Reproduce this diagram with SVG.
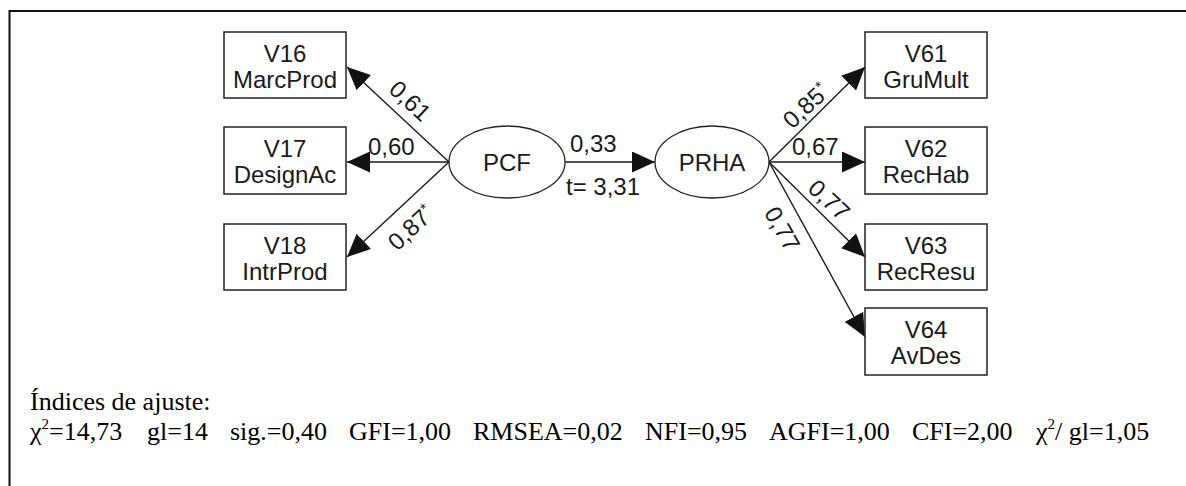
<svg xmlns="http://www.w3.org/2000/svg" width="1186" height="486" viewBox="0 0 1186 486">
  <style>
    .box { fill: #fff; stroke: #222; stroke-width: 1.5; }
    .lat { fill: #fff; stroke: #222; stroke-width: 1.3; }
    .lbl { font-family: "Liberation Sans", Arial, sans-serif; font-size: 24px; fill: #1a1a1a; }
    .mid { text-anchor: middle; }
    .edge { stroke: #1a1a1a; stroke-width: 1.4; fill: none; marker-end: url(#head); }
    .note { font-family: "Liberation Serif", "Times New Roman", serif; font-size: 26px; fill: #000; }
    .sup { font-size: 15px; }
  </style>
  <defs>
    <marker id="head" markerUnits="userSpaceOnUse" markerWidth="23" markerHeight="21" refX="23" refY="10.5" orient="auto">
      <path d="M0,0 L23,10.5 L0,21 z" fill="#111"/>
    </marker>
  </defs>

  <rect width="1186" height="486" fill="#fff"/>
  <!-- frame: top and left edges only -->
  <path d="M9.5,486 V11 H1186" fill="none" stroke="#111" stroke-width="2"/>

  <!-- connectors -->
  <g id="connectors">
    <line class="edge" x1="449" y1="162" x2="347" y2="67"/>
    <line class="edge" x1="449" y1="162" x2="347" y2="162"/>
    <line class="edge" x1="449" y1="162" x2="347" y2="257"/>
    <line class="edge" x1="565" y1="162" x2="655" y2="162"/>
    <line class="edge" x1="769" y1="162" x2="865" y2="67"/>
    <line class="edge" x1="769" y1="162" x2="865" y2="162"/>
    <line class="edge" x1="769" y1="162" x2="865" y2="257"/>
    <line class="edge" x1="769" y1="162" x2="865" y2="337"/>

    <text class="lbl mid" transform="translate(410,101) rotate(43)" y="8">0,61</text>
    <text class="lbl" x="368" y="155">0,60</text>
    <text class="lbl mid" transform="translate(411,228) rotate(-43)" y="8">0,87<tspan class="sup" dy="-8">*</tspan></text>
    <text class="lbl" x="570" y="152">0,33</text>
    <text class="lbl" x="566" y="195">t= 3,31</text>
    <text class="lbl mid" transform="translate(806,106) rotate(-43)" y="8">0,85<tspan class="sup" dy="-8">*</tspan></text>
    <text class="lbl" x="792" y="155">0,67</text>
    <text class="lbl mid" transform="translate(829,200) rotate(43)" y="8">0,77</text>
    <text class="lbl mid" transform="translate(782,229) rotate(60)" y="8">0,77</text>
  </g>

  <!-- latent variables -->
  <g id="PCF">
    <ellipse class="lat" cx="507" cy="162" rx="58" ry="36"/>
    <text class="lbl mid" x="507" y="171">PCF</text>
  </g>
  <g id="PRHA">
    <ellipse class="lat" cx="712" cy="162" rx="57" ry="36"/>
    <text class="lbl mid" x="712" y="171">PRHA</text>
  </g>

  <!-- observed variables, left -->
  <g id="V16">
    <rect class="box" x="224" y="32" width="122" height="66"/>
    <text class="lbl mid" x="285" y="62">V16</text>
    <text class="lbl mid" x="285" y="88">MarcProd</text>
  </g>
  <g id="V17">
    <rect class="box" x="224" y="127" width="122" height="67"/>
    <text class="lbl mid" x="285" y="157">V17</text>
    <text class="lbl mid" x="285" y="183">DesignAc</text>
  </g>
  <g id="V18">
    <rect class="box" x="224" y="224" width="122" height="66"/>
    <text class="lbl mid" x="285" y="254">V18</text>
    <text class="lbl mid" x="285" y="280">IntrProd</text>
  </g>

  <!-- observed variables, right -->
  <g id="V61">
    <rect class="box" x="865" y="32" width="122" height="66"/>
    <text class="lbl mid" x="926" y="62">V61</text>
    <text class="lbl mid" x="926" y="88">GruMult</text>
  </g>
  <g id="V62">
    <rect class="box" x="865" y="127" width="122" height="67"/>
    <text class="lbl mid" x="926" y="157">V62</text>
    <text class="lbl mid" x="926" y="183">RecHab</text>
  </g>
  <g id="V63">
    <rect class="box" x="865" y="224" width="122" height="66"/>
    <text class="lbl mid" x="926" y="254">V63</text>
    <text class="lbl mid" x="926" y="280">RecResu</text>
  </g>
  <g id="V64">
    <rect class="box" x="865" y="308" width="122" height="67"/>
    <text class="lbl mid" x="926" y="338">V64</text>
    <text class="lbl mid" x="926" y="364">AvDes</text>
  </g>

  <!-- fit indices -->
  <g id="fit">
    <text class="note" x="30" y="410">Índices de ajuste:</text>
    <text class="note" y="440">
      <tspan x="30">χ<tspan class="sup" dy="-11">2</tspan><tspan dy="11">=14,73</tspan></tspan>
      <tspan x="147">gl=14</tspan>
      <tspan x="230">sig.=0,40</tspan>
      <tspan x="349">GFI=1,00</tspan>
      <tspan x="473">RMSEA=0,02</tspan>
      <tspan x="645">NFI=0,95</tspan>
      <tspan x="769">AGFI=1,00</tspan>
      <tspan x="912">CFI=2,00</tspan>
      <tspan x="1036">χ<tspan class="sup" dy="-11">2</tspan><tspan dy="11">/ gl=1,05</tspan></tspan>
    </text>
  </g>
</svg>
